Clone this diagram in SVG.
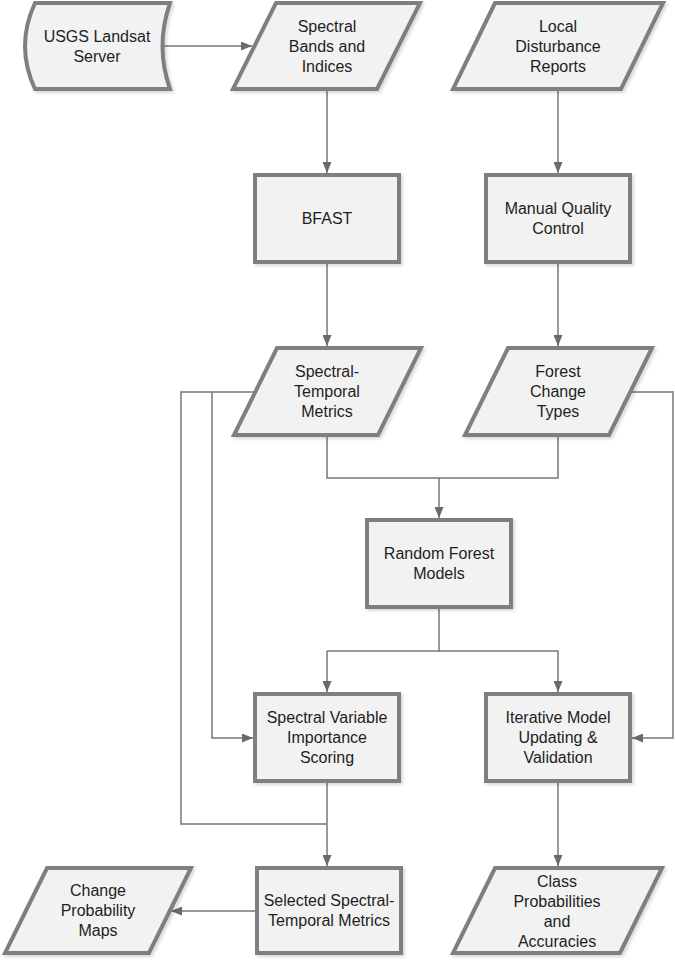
<svg xmlns="http://www.w3.org/2000/svg" width="675" height="960" viewBox="0 0 675 960">
<defs>
<marker id="ah" markerUnits="userSpaceOnUse" markerWidth="11" markerHeight="9" refX="11" refY="4.5" orient="auto">
<path d="M0,0 L11,4.5 L0,9 z" fill="#6a6a6a"/>
</marker>
<filter id="sh" x="-10%" y="-10%" width="125%" height="125%">
<feDropShadow dx="2" dy="2" stdDeviation="1.5" flood-color="#000" flood-opacity="0.15"/>
</filter>
</defs>
<style>
.n{fill:#f2f2f2;stroke:#7f7f7f;stroke-width:4;stroke-linejoin:miter;filter:url(#sh)}
.t{font-family:"Liberation Sans",Arial,sans-serif;font-size:16px;fill:#1e1e1e;text-anchor:middle}
.c{fill:none;stroke:#777;stroke-width:1.5}
.a{marker-end:url(#ah)}
</style>
<rect width="675" height="960" fill="#fff"/>

<g id="connectors">
<path class="c a" d="M160,46 H252"/>
<path class="c a" d="M327,89 V173"/>
<path class="c a" d="M558,89 V173"/>
<path class="c a" d="M327,262 V346"/>
<path class="c a" d="M558,262 V346"/>
<path class="c" d="M327,435 V478 H558 V435"/>
<path class="c a" d="M439,478 V518"/>
<path class="c" d="M439,607 V651 H327"/>
<path class="c a" d="M327,651 V692"/>
<path class="c a" d="M439,651 H558 V692"/>
<path class="c" d="M255,392 H181 V824 H327"/>
<path class="c a" d="M212,392 V738 H253"/>
<path class="c a" d="M327,781 V866"/>
<path class="c a" d="M631,392 H673 V738 H632"/>
<path class="c a" d="M558,781 V866"/>
<path class="c a" d="M255,911 H171"/>
</g>

<g id="usgs">
<path class="n" d="M35,3 H170 Q155,46 170,89 H35 Q15,46 35,3 z"/>
<text class="t" x="97" y="42">USGS Landsat</text>
<text class="t" x="97" y="62">Server</text>
</g>

<g id="spectral-bands">
<polygon class="n" points="276,3 420,3 377,89 233,89"/>
<text class="t" x="327" y="32">Spectral</text>
<text class="t" x="327" y="52">Bands and</text>
<text class="t" x="327" y="72">Indices</text>
</g>

<g id="local-disturbance">
<polygon class="n" points="495,3 663,3 621,89 453,89"/>
<text class="t" x="558" y="32">Local</text>
<text class="t" x="558" y="52">Disturbance</text>
<text class="t" x="558" y="72">Reports</text>
</g>

<g id="bfast">
<rect class="n" x="255" y="175" width="144" height="87"/>
<text class="t" x="327" y="224">BFAST</text>
</g>

<g id="manual-qc">
<rect class="n" x="486" y="175" width="144" height="87"/>
<text class="t" x="558" y="214">Manual Quality</text>
<text class="t" x="558" y="234">Control</text>
</g>

<g id="st-metrics">
<polygon class="n" points="277,348 421,348 378,435 234,435"/>
<text class="t" x="327" y="377">Spectral-</text>
<text class="t" x="327" y="397">Temporal</text>
<text class="t" x="327" y="417">Metrics</text>
</g>

<g id="forest-change">
<polygon class="n" points="508,348 652,348 609,435 465,435"/>
<text class="t" x="558" y="377">Forest</text>
<text class="t" x="558" y="397">Change</text>
<text class="t" x="558" y="417">Types</text>
</g>

<g id="random-forest">
<rect class="n" x="367" y="520" width="144" height="87"/>
<text class="t" x="439" y="559">Random Forest</text>
<text class="t" x="439" y="579">Models</text>
</g>

<g id="spectral-variable">
<rect class="n" x="255" y="694" width="144" height="87"/>
<text class="t" x="327" y="723">Spectral Variable</text>
<text class="t" x="327" y="743">Importance</text>
<text class="t" x="327" y="763">Scoring</text>
</g>

<g id="iterative">
<rect class="n" x="486" y="694" width="144" height="87"/>
<text class="t" x="558" y="723">Iterative Model</text>
<text class="t" x="558" y="743">Updating &amp;</text>
<text class="t" x="558" y="763">Validation</text>
</g>

<g id="selected">
<rect class="n" x="257" y="868" width="144" height="85"/>
<text class="t" x="329" y="906">Selected Spectral-</text>
<text class="t" x="329" y="926">Temporal Metrics</text>
</g>

<g id="change-prob">
<polygon class="n" points="47,868 191,868 149,953 5,953"/>
<text class="t" x="98" y="896">Change</text>
<text class="t" x="98" y="916">Probability</text>
<text class="t" x="98" y="936">Maps</text>
</g>

<g id="class-prob">
<polygon class="n" points="495,868 662,868 620,953 453,953"/>
<text class="t" x="557" y="887">Class</text>
<text class="t" x="557" y="907">Probabilities</text>
<text class="t" x="557" y="927">and</text>
<text class="t" x="557" y="947">Accuracies</text>
</g>
</svg>
